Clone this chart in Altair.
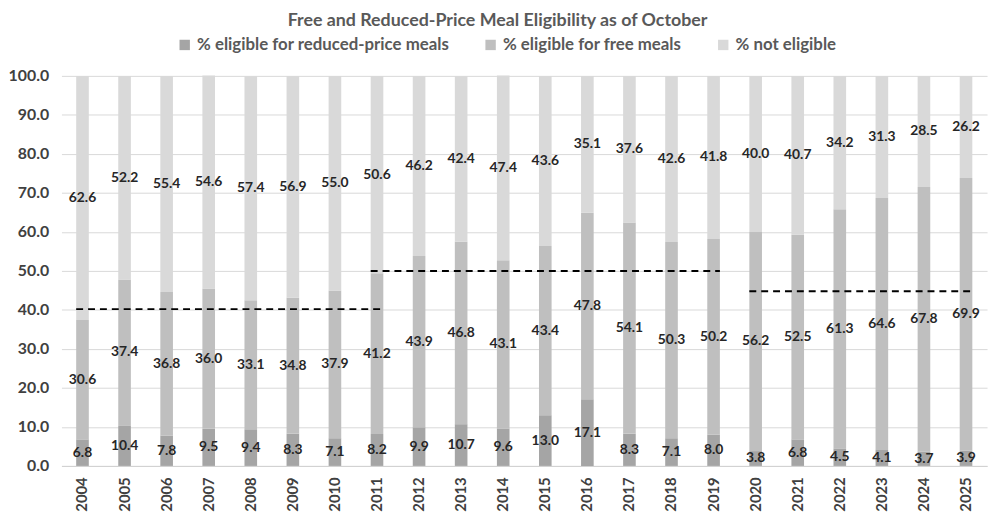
import altair as alt
import pandas as pd

years = [str(y) for y in range(2004, 2026)]
reduced = [6.8, 10.4, 7.8, 9.5, 9.4, 8.3, 7.1, 8.2, 9.9, 10.7, 9.6, 13.0, 17.1, 8.3, 7.1, 8.0, 3.8, 6.8, 4.5, 4.1, 3.7, 3.9]
free = [30.6, 37.4, 36.8, 36.0, 33.1, 34.8, 37.9, 41.2, 43.9, 46.8, 43.1, 43.4, 47.8, 54.1, 50.3, 50.2, 56.2, 52.5, 61.3, 64.6, 67.8, 69.9]
not_elig = [62.6, 52.2, 55.4, 54.6, 57.4, 56.9, 55.0, 50.6, 46.2, 42.4, 47.4, 43.6, 35.1, 37.6, 42.6, 41.8, 40.0, 40.7, 34.2, 31.3, 28.5, 26.2]
y_ticks = [0, 10, 20, 30, 40, 50, 60, 70, 80, 90, 100]

series_names = ["% eligible for reduced-price meals", "% eligible for free meals", "% not eligible"]
series_colors = ["#a5a5a5", "#bfbfbf", "#d9d9d9"]

ref_start = ["2004", "2011", "2020"]
ref_end = ["2011", "2019", "2025"]
ref_value = [40.2, 50.0, 44.8]

rows = []
for i, y in enumerate(years):
    for k, (name, vals) in enumerate(zip(series_names, [reduced, free, not_elig])):
        rows.append({"year": y, "series": name, "value": vals[i], "order": k})
df = pd.DataFrame(rows)
ref_df = pd.DataFrame({"start": ref_start, "end": ref_end, "value": ref_value})

FONT = "Lato"
x_scale = alt.Scale(domain=years, paddingInner=0.7, paddingOuter=0.35)
y_scale = alt.Scale(domain=[0, 100])

x_axis = alt.Axis(labelAngle=-90, labelFontWeight="bold", labelFontSize=15,
                  labelColor="#404040", ticks=False, domainColor="#d0d0d0",
                  labelPadding=11, labelFont=FONT, labelOverlap=False, title=None)
y_axis = alt.Axis(values=y_ticks, format=".1f", labelFontWeight="bold",
                  labelFontSize=16, labelColor="#404040", ticks=False, domain=False,
                  gridColor="#d9d9d9", labelPadding=13, labelFont=FONT,
                  labelOverlap=False, labelFlush=False, title=None)

base = alt.Chart(df).transform_stack(
    stack="value", as_=["y0", "y1"], groupby=["year"], sort=[alt.SortField("order")]
).transform_calculate(mid="(datum.y0 + datum.y1) / 2")

bars = base.mark_bar().encode(
    x=alt.X("year:O", scale=x_scale, axis=x_axis),
    y=alt.Y("y0:Q", scale=y_scale, axis=y_axis),
    y2="y1:Q",
    color=alt.Color("series:N", scale=alt.Scale(domain=series_names, range=series_colors),
                    legend=alt.Legend(title=None, orient="none", legendX=116, legendY=-40,
                                      direction="horizontal",
                                      symbolType="square", symbolSize=110, labelFontSize=17,
                                      labelFontWeight="bold", labelColor="#595959",
                                      columnPadding=33, labelFont=FONT, labelLimit=0,
                                      symbolStrokeWidth=0)),
)

labels = base.mark_text(fontSize=14, fontWeight="bold", color="#262626", font=FONT).encode(
    x=alt.X("year:O", scale=x_scale, axis=x_axis),
    y=alt.Y("mid:Q", scale=y_scale, axis=y_axis),
    text=alt.Text("value:Q", format=".1f"),
)

rules = alt.Chart(ref_df).mark_rule(color="black", strokeDash=[7, 5], strokeWidth=2).encode(
    x=alt.X("start:O", scale=x_scale, bandPosition=0, axis=x_axis),
    x2=alt.X2("end:O", bandPosition=1),
    y=alt.Y("value:Q", scale=y_scale, axis=y_axis),
)

chart = alt.layer(bars, rules, labels).properties(
    width=935, height=394,
    title=alt.TitleParams("Free and Reduced-Price Meal Eligibility as of October",
                          fontSize=18, fontWeight="bold", color="#595959", font=FONT,
                          offset=6, frame="bounds"),
    padding={"left": 0, "right": 5, "top": 2, "bottom": 0},
).configure_view(stroke=None)

chart.save("out.html", embed_options={"renderer": "svg", "actions": False})
